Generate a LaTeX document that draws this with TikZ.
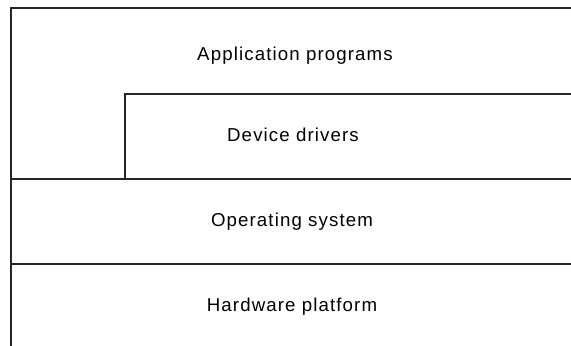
\documentclass[tikz,border=0pt]{standalone}
\usepackage{fontspec}
\setmainfont{Liberation Sans}[LetterSpace=6]
\begin{document}
\begin{tikzpicture}[x=0.75pt,y=-0.75pt,
  layerline/.style={line width=1.5pt,black!85,line cap=rect},
  layertext/.style={anchor=base,inner sep=0pt,font=\fontsize{14}{16}\selectfont}]
\useasboundingbox (0,0) rectangle (571,346);
% frame lines
\draw[layerline] (11,346) -- (11,8) -- (571,8);
\draw[layerline] (125,179) -- (125,94) -- (571,94);
\draw[layerline] (11,179) -- (571,179);
\draw[layerline] (11,264) -- (571,264);
% labels
\node[layertext] (app) at (295,61) {Application programs};
\node[layertext] (drv) at (293,141) {Device drivers};
\node[layertext] (os) at (292,226) {Operating system};
\node[layertext] (hw) at (292,311) {Hardware platform};
\end{tikzpicture}
\end{document}
